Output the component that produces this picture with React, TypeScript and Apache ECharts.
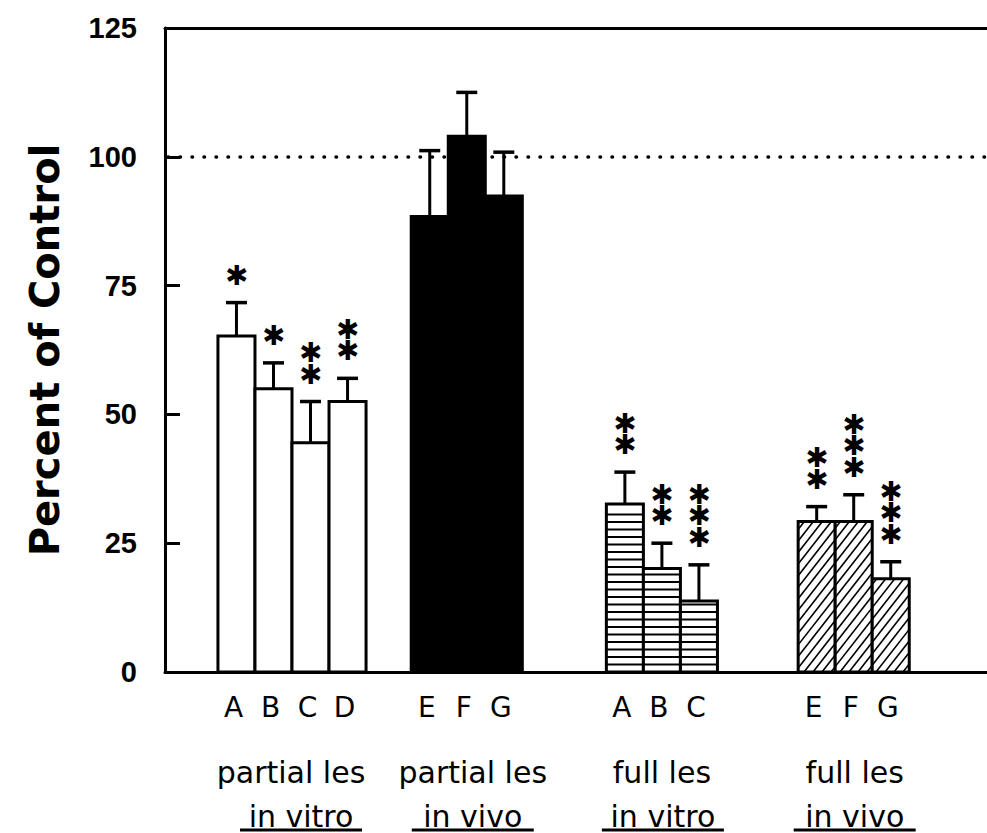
import React, { useEffect, useRef } from 'react';
import * as echarts from 'echarts';

// ---- data ----
const groupTitles = ['partial les', 'partial les', 'full les', 'full les'];
const groupSubtitles = ['in vitro', 'in vivo', 'in vitro', 'in vivo'];
const groupFills = ['open', 'solid', 'hstripe', 'diag'];
const barLetters = [['A', 'B', 'C', 'D'], ['E', 'F', 'G'], ['A', 'B', 'C'], ['E', 'F', 'G']];
const barMeans = [[65.2, 55, 44.5, 52.5], [88.4, 104, 92.4], [32.6, 20.1, 13.8], [29.2, 29.2, 18.1]];
const barErrTops = [[71.7, 60, 52.5, 57], [101.2, 112.5, 100.9], [38.8, 25, 20.8], [32.1, 34.4, 21.4]];
const barStars = [[1, 1, 2, 2], [0, 0, 0], [2, 2, 3], [2, 3, 3]];
const yTicks = [0, 25, 50, 75, 100, 125];
const controlLevel = 100;
const yTitle = 'Percent of Control';
const starGlyph = '✱';

// ---- layout constants (in bar-width units on a hidden value axis) ----
const X_LEAD = 1.43;
const X_GAPS = [0, 1.22, 2.27, 2.18];
const X_MAX = 22.2;
const TITLE_DX = [-1, 6, 0, 1];
const SUB_DX = [9, 6, 1, 1];
const STAR_STEP = 21.5;

type Bar = { x: number; mean: number; err: number; stars: number; letter: string; fill: string };
const bars: Bar[] = [];
const groupCenters: number[] = [];
{
  let pos = X_LEAD;
  barMeans.forEach((g, gi) => {
    pos += X_GAPS[gi];
    const start = pos;
    g.forEach((m, bi) => {
      bars.push({
        x: pos + 0.5,
        mean: m,
        err: barErrTops[gi][bi],
        stars: barStars[gi][bi],
        letter: barLetters[gi][bi],
        fill: groupFills[gi],
      });
      pos += 1;
    });
    groupCenters.push((start + pos) / 2);
  });
}

export default function App() {
  const ref = useRef<HTMLDivElement>(null);
  useEffect(() => {
    const chart = echarts.init(ref.current!, undefined, { renderer: 'svg' });
    const axisLine = { show: true, onZero: false, lineStyle: { color: '#000', width: 3 } };

    const renderBar = (params: any, api: any) => {
      const b = bars[params.dataIndex];
      const p0 = api.coord([b.x - 0.5, b.mean]);
      const p1 = api.coord([b.x + 0.5, 0]);
      const gridLeft = api.coord([0, 0])[0];
      const x1 = p0[0], x2 = p1[0], yt = p0[1], yb = p1[1];
      const cx = (x1 + x2) / 2;
      const children: any[] = [];
      const fillColor = b.fill === 'solid' ? '#000' : '#fff';
      children.push({ type: 'rect', shape: { x: x1, y: yt, width: x2 - x1, height: yb - yt }, style: { fill: fillColor } });
      if (b.fill === 'hstripe') {
        const sp = 7.5;
        for (let y = yb - sp; y > yt + 3; y -= sp) {
          children.push({ type: 'line', shape: { x1, y1: y, x2, y2: y }, style: { stroke: '#000', lineWidth: 2 } });
        }
      }
      if (b.fill === 'diag') {
        const sp = 9, k = 0.78;
        const H = yb - yt;
        let c = Math.floor((x1 - H * k - gridLeft) / sp) * sp + gridLeft;
        for (; c < x2; c += sp) {
          const yAtX1 = yb - (x1 - c) / k;
          const yAtX2 = yb - (x2 - c) / k;
          const ylo = Math.max(yt, yAtX2);
          const yhi = Math.min(yb, yAtX1);
          if (yhi - ylo < 0.5) continue;
          children.push({
            type: 'line',
            shape: { x1: c + (yb - yhi) * k, y1: yhi, x2: c + (yb - ylo) * k, y2: ylo },
            style: { stroke: '#000', lineWidth: 1.6 },
          });
        }
      }
      children.push({ type: 'rect', shape: { x: x1, y: yt, width: x2 - x1, height: yb - yt }, style: { fill: 'none', stroke: '#000', lineWidth: 3 } });
      const pe = api.coord([b.x, b.err]);
      children.push({ type: 'line', shape: { x1: cx, y1: yt, x2: cx, y2: pe[1] }, style: { stroke: '#000', lineWidth: 3 } });
      children.push({ type: 'line', shape: { x1: cx - 10.5, y1: pe[1], x2: cx + 10.5, y2: pe[1] }, style: { stroke: '#000', lineWidth: 3.5 } });
      for (let s = 0; s < b.stars; s++) {
        children.push({
          type: 'text', x: cx, y: pe[1] - 28 - s * STAR_STEP,
          scaleX: 1.45, scaleY: 1.45,
          style: {
            text: starGlyph, fontSize: 19, fontFamily: 'DejaVu Sans', fill: '#000',
            align: 'center', verticalAlign: 'middle',
          },
        });
      }
      children.push({
        type: 'text', x: cx - 3, y: yb + 35,
        style: { text: b.letter, fontSize: 28, fontFamily: 'DejaVu Sans', fill: '#000', align: 'center', verticalAlign: 'middle' },
      });
      return { type: 'group', children };
    };

    const renderGroup = (params: any, api: any) => {
      const gi = params.dataIndex;
      const p = api.coord([groupCenters[gi], 0]);
      const children: any[] = [
        {
          type: 'text', x: p[0] + TITLE_DX[gi], y: p[1] + 100,
          style: { text: groupTitles[gi], fontSize: 30, fontFamily: 'DejaVu Sans', fill: '#000', align: 'center', verticalAlign: 'middle' },
        },
        {
          type: 'text', x: p[0] + SUB_DX[gi], y: p[1] + 144,
          style: { text: groupSubtitles[gi], fontSize: 30, fontFamily: 'DejaVu Sans', fill: '#000', align: 'center', verticalAlign: 'middle' },
        },
        {
          type: 'line', shape: { x1: p[0] + SUB_DX[gi] - 61, y1: p[1] + 158, x2: p[0] + SUB_DX[gi] + 61, y2: p[1] + 158 },
          style: { stroke: '#000', lineWidth: 3 },
        },
      ];
      return { type: 'group', children };
    };

    chart.setOption({
      animation: false,
      backgroundColor: '#fff',
      grid: { left: 165, top: 28, width: 822, height: 644 },
      xAxis: [
        { type: 'value', min: 0, max: X_MAX, axisLine, axisTick: { show: false }, axisLabel: { show: false }, splitLine: { show: false } },
        { type: 'value', position: 'top', min: 0, max: X_MAX, axisLine, axisTick: { show: false }, axisLabel: { show: false }, splitLine: { show: false } },
      ],
      yAxis: {
        type: 'value',
        min: yTicks[0],
        max: yTicks[yTicks.length - 1],
        interval: yTicks[1] - yTicks[0],
        axisLine,
        axisTick: { show: true, inside: true, length: 15, lineStyle: { color: '#000', width: 3 } },
        axisLabel: { color: '#000', fontSize: 29, fontWeight: 'bold', fontFamily: 'Liberation Sans', margin: 28 },
        splitLine: { show: false },
        name: yTitle,
        nameLocation: 'middle',
        nameRotate: 90,
        nameGap: 100,
        nameTextStyle: { color: '#000', fontSize: 40, fontWeight: 'bold', fontFamily: 'DejaVu Sans' },
      },
      series: [
        {
          type: 'custom',
          xAxisIndex: 0,
          yAxisIndex: 0,
          clip: false,
          renderItem: renderBar,
          encode: { x: 0, y: 1 },
          data: bars.map((b) => [b.x, b.mean, b.err]),
          markLine: {
            silent: true,
            symbol: ['none', 'none'],
            label: { show: false },
            lineStyle: { color: '#000', width: 3.5, type: [0.5, 11.5], cap: 'round', dashOffset: 9 },
            data: [{ yAxis: controlLevel }],
          },
          z: 3,
        },
        {
          type: 'custom',
          xAxisIndex: 0,
          yAxisIndex: 0,
          clip: false,
          renderItem: renderGroup,
          encode: { x: 0 },
          data: groupCenters.map((c) => [c, 0]),
        },
      ],
    });
    return () => chart.dispose();
  }, []);
  return <div ref={ref} style={{ position: 'fixed', left: 0, top: 0, width: 987, height: 833, background: '#fff' }} />;
}
